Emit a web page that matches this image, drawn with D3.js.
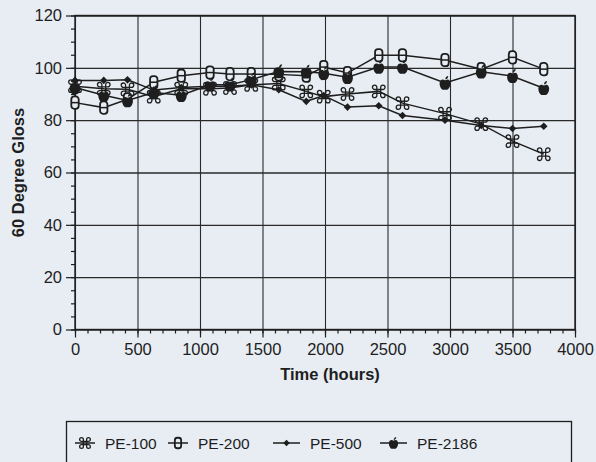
<html>
<head>
    <title>60 Degree Gloss</title>
    <script src="https://d3js.org/d3.v7.min.js"></script>
</head>
<body>
<div class="chart-wrapper"></div>
</body>
<script>
    var hours = [0, 230, 420, 630, 850, 1080, 1240, 1410, 1630, 1850, 1990, 2180, 2430, 2620, 2960, 3250, 3500, 3750];
    var pe100 = [93, 92, 91.8, 89, 92, 92, 92.3, 93.5, 94, 91, 89, 90, 91, 86.5, 82.5, 78.5, 72, 67];
    var pe200 = [86.7, 84.8, 88, 94.5, 97, 98.2, 97.6, 97.6, 97.5, 97, 100.3, 98, 104.8, 104.8, 103, 99.5, 104, 99.5];
    var pe500 = [95.2, 95.2, 95.4, 91.5, 92.5, 93, 93, 93.5, 91.6, 87.2, 89.4, 85, 85.5, 81.8, 80, 78, 76.8, 77.7];
    var pe2186 = [92.5, 89.5, 87.5, 90.6, 89.5, 93.5, 93.5, 95.5, 98.6, 98.5, 97.9, 96.4, 100.3, 100.3, 94.2, 98.5, 96.8, 92.2];
    var seriesNames = ['PE-100', 'PE-200', 'PE-500', 'PE-2186'];
    var xTicks = [0, 500, 1000, 1500, 2000, 2500, 3000, 3500, 4000];
    var yTicks = [0, 20, 40, 60, 80, 100, 120];

    var bg = '#e7edf3';
    var ink = '#1e1e1e';

    var width = 596, height = 462;
    var pLeft = 75, pRight = 575, pTop = 15.5, pBottom = 329.5;

    var svg = d3.select('.chart-wrapper')
        .append('svg')
        .attr('width', width).attr('height', height);

    svg.append('rect').attr('width', width).attr('height', height).attr('fill', bg);

    var x = d3.scaleLinear().domain([0, 4000]).range([pLeft, pRight]);
    var y = d3.scaleLinear().domain([0, 120]).range([pBottom, pTop]);

    // grid
    svg.append('g')
        .attr('class', 'grid')
        .attr('transform', 'translate(0,' + pBottom + ')')
        .call(d3.axisBottom(x).tickValues(xTicks).tickSize(-(pBottom - pTop)).tickFormat(''))
        .call(function (g) { g.select('.domain').remove(); });
    svg.append('g')
        .attr('class', 'grid hgrid')
        .attr('transform', 'translate(' + pLeft + ',0)')
        .call(d3.axisLeft(y).tickValues(yTicks).tickSize(-(pRight - pLeft)).tickFormat(''))
        .call(function (g) { g.select('.domain').remove(); });

    // frame
    svg.append('rect')
        .attr('x', pLeft).attr('y', pTop)
        .attr('width', pRight - pLeft).attr('height', pBottom - pTop)
        .attr('fill', 'none').attr('stroke', ink).attr('stroke-width', 1.4);

    // minor ticks
    svg.append('g')
        .attr('class', 'axis')
        .attr('transform', 'translate(0,' + pBottom + ')')
        .call(d3.axisBottom(x).tickValues(d3.range(0, 4001, 100)).tickSize(4).tickFormat(''))
        .call(function (g) { g.select('.domain').remove(); });
    svg.append('g')
        .attr('class', 'axis')
        .attr('transform', 'translate(' + pLeft + ',0)')
        .call(d3.axisLeft(y).tickValues(d3.range(0, 121, 5)).tickSize(4).tickFormat(''))
        .call(function (g) { g.select('.domain').remove(); });

    // major ticks + labels
    svg.append('g')
        .attr('class', 'axis labels')
        .attr('transform', 'translate(0,' + pBottom + ')')
        .call(d3.axisBottom(x).tickValues(xTicks).tickSize(8).tickPadding(6).tickFormat(d3.format('d')))
        .call(function (g) { g.select('.domain').remove(); });
    svg.append('g')
        .attr('class', 'axis labels')
        .attr('transform', 'translate(' + pLeft + ',0)')
        .call(d3.axisLeft(y).tickValues(yTicks).tickSize(9).tickPadding(4).tickFormat(d3.format('d')))
        .call(function (g) { g.select('.domain').remove(); });

    svg.append('text')
        .attr('class', 'title')
        .attr('x', (pLeft + pRight) / 2 + 5).attr('y', 380)
        .attr('text-anchor', 'middle')
        .text('Time (hours)');

    svg.append('text')
        .attr('class', 'title')
        .attr('transform', 'translate(24,' + ((pTop + pBottom) / 2) + ') rotate(-90)')
        .attr('text-anchor', 'middle')
        .text('60 Degree Gloss');

    // marker shapes
    function cmdPath(a, r) {
        var e = a + r, p = '';
        p += 'M' + (-a) + ',' + (-e) + 'L' + (-a) + ',' + e;
        p += 'M' + a + ',' + (-e) + 'L' + a + ',' + e;
        p += 'M' + (-e) + ',' + (-a) + 'L' + e + ',' + (-a);
        p += 'M' + (-e) + ',' + a + 'L' + e + ',' + a;
        [[1, 1], [1, -1], [-1, 1], [-1, -1]].forEach(function (s) {
            var sweep = s[0] * s[1] > 0 ? 0 : 1;
            p += 'M' + (s[0] * a) + ',' + (s[1] * e) +
                'A' + r + ',' + r + ' 0 1 ' + sweep + ' ' + (s[0] * e) + ',' + (s[1] * a);
        });
        return p;
    }

    function drawMarker(g, type, k) {
        k = k || 1;
        if (type === 'PE-100') {
            g.append('path').attr('d', cmdPath(1.9 * k, 2.2 * k))
                .attr('fill', 'none').attr('stroke', ink).attr('stroke-width', 1.3);
        } else if (type === 'PE-200') {
            g.append('rect').attr('x', -3.7 * k).attr('y', -6.2 * k)
                .attr('width', 7.4 * k).attr('height', 12.4 * k).attr('rx', 3 * k)
                .attr('fill', bg).attr('stroke', ink).attr('stroke-width', 1.8);
            g.append('line').attr('x1', -3.7 * k).attr('x2', 3.7 * k).attr('y1', 0).attr('y2', 0)
                .attr('stroke', ink).attr('stroke-width', 1.5);
        } else if (type === 'PE-500') {
            g.append('path').attr('d', 'M0,-3.8L3.8,0L0,3.8L-3.8,0Z')
                .attr('transform', 'scale(' + k + ')').attr('fill', ink);
        } else {
            var a = g.append('g').attr('transform', 'scale(' + (1.08 * k) + ')');
            a.append('path')
                .attr('d', 'M0,-2.5C-1.5,-3.8 -5,-3.8 -5,0.5C-5,4 -2.8,6.5 -1.5,6.3C-0.6,6.2 0.6,6.2 1.5,6.3' +
                    'C2.8,6.5 5,4 5,0.5C5,-1.5 3.8,-3.5 2.2,-3.3C1.2,-3.2 0.6,-2.6 0,-2.5Z')
                .attr('fill', ink);
            a.append('path')
                .attr('d', 'M0.2,-3.4C0.2,-5.2 1.4,-6.4 3,-6.6C3,-4.8 1.8,-3.6 0.2,-3.4Z')
                .attr('fill', ink);
        }
    }

    var series = [pe100, pe200, pe500, pe2186].map(function (vals, i) {
        return { name: seriesNames[i], points: vals.map(function (v, j) { return [hours[j], v]; }) };
    });

    var line = d3.line()
        .x(function (d) { return x(d[0]); })
        .y(function (d) { return y(d[1]); });

    var plot = svg.append('g').attr('id', 'plot');

    plot.selectAll('path.series')
        .data(series)
        .enter()
        .append('path')
        .attr('class', 'series')
        .attr('d', function (d) { return line(d.points); })
        .attr('fill', 'none')
        .attr('stroke', ink)
        .attr('stroke-width', 1.5);

    series.forEach(function (s) {
        plot.selectAll(null)
            .data(s.points)
            .enter()
            .append('g')
            .attr('transform', function (d) { return 'translate(' + x(d[0]) + ',' + y(d[1]) + ')'; })
            .each(function () { drawMarker(d3.select(this), s.name); });
    });

    // legend
    var legend = svg.append('g').attr('id', 'legend');
    legend.append('rect')
        .attr('x', 66.5).attr('y', 421.5).attr('width', 505).attr('height', 60)
        .attr('fill', 'none').attr('stroke', ink).attr('stroke-width', 1.3);

    var legendX = [75, 168, 273, 380];
    var legendLen = [20, 20, 27, 27];
    seriesNames.forEach(function (name, i) {
        var lg = legend.append('g').attr('transform', 'translate(' + legendX[i] + ',443)');
        lg.append('line').attr('x1', 0).attr('x2', legendLen[i]).attr('y1', 0).attr('y2', 0)
            .attr('stroke', ink).attr('stroke-width', 1.5);
        var m = lg.append('g').attr('transform', 'translate(' + (legendLen[i] / 2) + ',0)');
        drawMarker(m, name, 0.85);
        lg.append('text')
            .attr('class', 'legend-label')
            .attr('x', legendLen[i] + 10).attr('y', 5.5)
            .text(name);
    });
</script>
<style lang="css">
    body {
        margin: 0;
        background-color: #e7edf3;
    }

    svg {
        display: block;
    }

    .grid line {
        stroke: #2a2a2a;
        stroke-width: 1.1;
    }

    .hgrid line {
        stroke-width: 1.4;
    }

    .axis line {
        stroke: #1e1e1e;
        stroke-width: 1.2;
    }

    .axis text {
        font-family: "Liberation Sans", Arial, sans-serif;
        font-size: 16.5px;
        fill: #1e1e1e;
    }

    .title {
        font-family: "Liberation Sans", Arial, sans-serif;
        font-size: 16.5px;
        font-weight: bold;
        fill: #1e1e1e;
    }

    .legend-label {
        font-family: "Liberation Sans", Arial, sans-serif;
        font-size: 15.5px;
        fill: #1e1e1e;
    }
</style>
</html>
